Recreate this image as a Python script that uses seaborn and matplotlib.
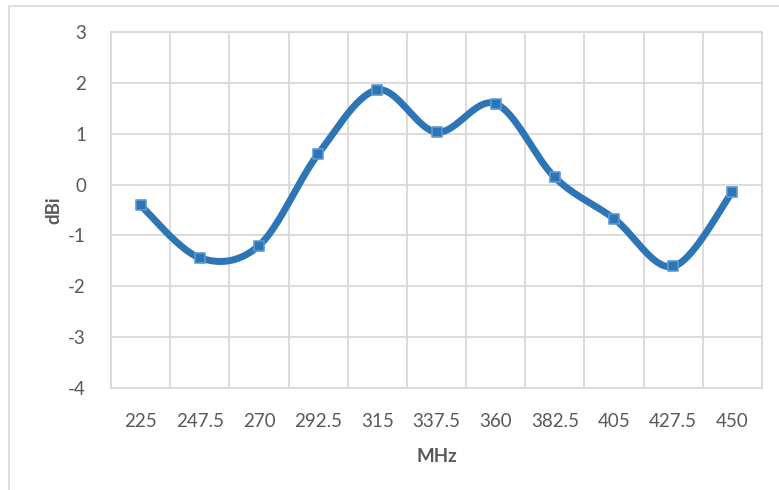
import numpy as np
import pandas as pd
import matplotlib
matplotlib.use("Agg")
import matplotlib.pyplot as plt
import seaborn as sns
from matplotlib.patches import Rectangle

# data
freqs = ["225", "247.5", "270", "292.5", "315", "337.5", "360", "382.5", "405", "427.5", "450"]
gain = [-0.41, -1.44, -1.20, 0.60, 1.86, 1.03, 1.59, 0.14, -0.67, -1.61, -0.14]

line_col = "#2E75B6"
grid_col = "#D9D9D9"
text_col = "#595959"


def smooth(xs, ys, n=40):
    # Excel-style smoothed line (Catmull-Rom as cubic Bezier)
    pts = np.column_stack([xs, ys]).astype(float)
    ext = np.vstack([pts[0], pts, pts[-1]])
    out = []
    for i in range(len(pts) - 1):
        p0, p1, p2, p3 = ext[i], ext[i + 1], ext[i + 2], ext[i + 3]
        b1 = p1 + (p2 - p0) / 6
        b2 = p2 - (p3 - p1) / 6
        t = np.linspace(0, 1, n)[:, None]
        seg = (1 - t) ** 3 * p1 + 3 * (1 - t) ** 2 * t * b1 + 3 * (1 - t) * t ** 2 * b2 + t ** 3 * p2
        out.append(seg if i == 0 else seg[1:])
    out = np.vstack(out)
    return out[:, 0], out[:, 1]


sns.set_style("white")
plt.rcParams["font.family"] = ["Lato", "DejaVu Sans"]
plt.rcParams["axes.unicode_minus"] = False

W, H = 779, 490
fig = plt.figure(figsize=(W / 100, H / 100), dpi=100)
fig.patches.append(Rectangle((9 / W, -0.2), 1.2, (H - 6) / H + 0.2, transform=fig.transFigure,
                             fill=False, edgecolor=grid_col, linewidth=1.2))

ax = fig.add_axes([111 / W, (H - 388) / H, 651 / W, 356 / H])

pos = np.arange(len(freqs))
sx, sy = smooth(pos, gain)
curve = pd.DataFrame({"x": sx, "y": sy})
pts = pd.DataFrame({"x": pos, "y": gain})

sns.lineplot(data=curve, x="x", y="y", sort=False, estimator=None, color=line_col,
             linewidth=5, ax=ax, solid_capstyle="round", zorder=3)
sns.scatterplot(data=pts, x="x", y="y", marker="s", s=60, color=line_col,
                edgecolor="#5B9BD5", linewidth=1.2, ax=ax, zorder=4)

ax.set_xlim(-0.5, len(freqs) - 0.5)
ax.set_ylim(-4, 3)
ax.set_yticks(range(-4, 4))
ax.set_xticks(pos)
ax.set_xticklabels(freqs)
ax.set_xticks(np.arange(-0.5, len(freqs), 1), minor=True)
ax.grid(False)
ax.grid(True, which="minor", axis="x", color=grid_col, linewidth=1.3)
ax.grid(True, which="major", axis="y", color=grid_col, linewidth=1.3)
ax.set_axisbelow(True)
for s in ax.spines.values():
    s.set_color(grid_col)
    s.set_linewidth(1.3)

ax.tick_params(axis="both", which="both", length=0, labelsize=13.5, labelcolor=text_col)
ax.tick_params(axis="x", pad=18)
ax.tick_params(axis="y", pad=18)

ax.set_xlabel("MHz", fontsize=13.5, fontweight="bold", color=text_col, labelpad=13)
ax.set_ylabel("dBi", fontsize=13.5, fontweight="bold", color=text_col, labelpad=4)

fig.savefig("out.png", dpi=100)
